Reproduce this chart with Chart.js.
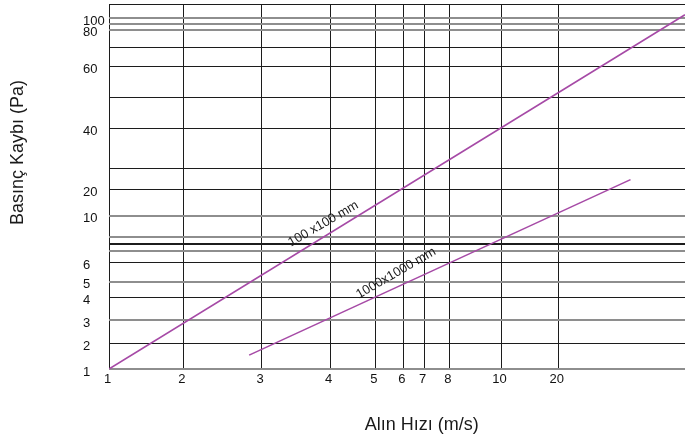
<!DOCTYPE html>
<html>
<head>
<meta charset="utf-8">
<script src="https://cdn.jsdelivr.net/npm/chart.js@4/dist/chart.umd.min.js"></script>
<style>
  html, body { margin: 0; padding: 0; background: #ffffff; }
  #wrap { width: 685px; height: 441px; }
</style>
</head>
<body>
<div id="wrap"><canvas id="c" width="685" height="441"></canvas></div>
<script>
// ---- data ----
const xTickValues = [1, 2, 3, 4, 5, 6, 7, 8, 10, 20];
const yTickLabels = [1, 2, 3, 4, 5, 6, 10, 20, 40, 60, 80, 100];
const yMinorValues = [7, 8, 9, 30, 50, 70, 90];
const seriesNames = ['100 x100 mm', '1000x1000 mm'];
const smallDuctVelocity = [1, 30];
const smallDuctPressure = [1, 105];
const largeDuctVelocity = [2.84, 25.7];
const largeDuctPressure = [1.54, 24.6];
const xAxisTitle = 'Alın Hızı (m/s)';
const yAxisTitle = 'Basınç Kaybı (Pa)';

// ---- axis definition: the chart's hand-drawn, non-uniform scale (value -> fraction of axis) ----
const xAxisMax = 30, yAxisMax = 120;
const xKnots = [[1,0],[2,0.129],[3,0.2651],[4,0.3837],[5,0.4623],[6,0.5109],[7,0.5469],[8,0.5908],[10,0.6806],[20,0.780],[30,1]];
const yKnots = [[1,0],[2,0.0704],[3,0.1342],[4,0.1964],[5,0.2392],[6,0.2912],[7,0.3241],[8,0.3425],[9,0.3608],[10,0.42],[20,0.4923],[30,0.5499],[40,0.6584],[50,0.7433],[60,0.8282],[70,0.8803],[80,0.9296],[90,0.9452],[100,0.9608],[120,1]];

function toFrac(knots, v) {
  let i = 0;
  while (i < knots.length - 2 && v > knots[i + 1][0]) i++;
  const [v0, f0] = knots[i], [v1, f1] = knots[i + 1];
  return f0 + (v - v0) / (v1 - v0) * (f1 - f0);
}
function fromFrac(knots, f) {
  let i = 0;
  while (i < knots.length - 2 && f > knots[i + 1][1]) i++;
  const [v0, f0] = knots[i], [v1, f1] = knots[i + 1];
  return v0 + (f - f0) / (f1 - f0) * (v1 - v0);
}

const LinearScale = Chart.LinearScale || Chart.registry.getScale('linear');
class BreakScale extends LinearScale {
  _knots() { return this.axis === 'x' ? xKnots : yKnots; }
  getPixelForValue(value) {
    if (value === null || value === undefined || isNaN(value)) return NaN;
    return this.getPixelForDecimal(toFrac(this._knots(), value));
  }
  getValueForPixel(pixel) {
    return fromFrac(this._knots(), this.getDecimalForPixel(pixel));
  }
}
BreakScale.id = 'breaks';
Chart.register(BreakScale);

const FONT = '"Liberation Sans", Arial, Helvetica, sans-serif';
const PURPLE = '#a64aa6';
const yGray = [1, 3, 5, 7, 9, 10, 80, 90, 100];
const yThick = [8];

const lineLabels = [
  { dataset: 0, t: 0.372, dy: -13.3, text: seriesNames[0] },
  { dataset: 1, t: 0.385, dy: -14.4, text: seriesNames[1] }
];

const annotate = {
  id: 'annotate',
  afterDatasetsDraw(chart) {
    const ctx = chart.ctx;
    ctx.save();
    ctx.fillStyle = '#1a1a1a';
    ctx.font = '13px ' + FONT;
    ctx.textAlign = 'center';
    ctx.textBaseline = 'middle';
    lineLabels.forEach(l => {
      const pts = chart.getDatasetMeta(l.dataset).data;
      const p0 = pts[0], p1 = pts[pts.length - 1];
      const x = p0.x + (p1.x - p0.x) * l.t;
      const y = p0.y + (p1.y - p0.y) * l.t + l.dy;
      ctx.save();
      ctx.translate(x, y);
      ctx.rotate(-30 * Math.PI / 180);
      ctx.fillText(l.text, 0, 0);
      ctx.restore();
    });
    // axis titles
    ctx.font = '18px ' + FONT;
    ctx.textBaseline = 'alphabetic';
    ctx.textAlign = 'center';
    ctx.fillText(xAxisTitle, 421.7, 430);
    ctx.save();
    ctx.translate(22.7, 225);
    ctx.rotate(-Math.PI / 2);
    ctx.textAlign = 'left';
    ctx.fillText(yAxisTitle, 0, 0);
    ctx.restore();
    ctx.restore();
  }
};

new Chart(document.getElementById('c').getContext('2d'), {
  type: 'scatter',
  data: {
    datasets: [
      {
        label: seriesNames[0],
        data: smallDuctVelocity.map((x, i) => ({ x: x, y: smallDuctPressure[i] })),
        showLine: true, borderColor: PURPLE, backgroundColor: PURPLE,
        borderWidth: 1.6, pointRadius: 0, fill: false
      },
      {
        label: seriesNames[1],
        data: largeDuctVelocity.map((x, i) => ({ x: x, y: largeDuctPressure[i] })),
        showLine: true, borderColor: PURPLE, backgroundColor: PURPLE,
        borderWidth: 1.6, pointRadius: 0, fill: false
      }
    ]
  },
  options: {
    responsive: false,
    animation: false,
    devicePixelRatio: 1,
    layout: { padding: { left: 83, top: 4, right: 0, bottom: 0 } },
    plugins: { legend: { display: false }, tooltip: { enabled: false } },
    scales: {
      x: {
        type: 'breaks',
        min: 1, max: xAxisMax,
        afterBuildTicks: s => { s.ticks = [...xTickValues, xAxisMax].map(v => ({ value: v })); },
        afterFit: s => { s.height = 72; s.paddingLeft = 0; s.paddingRight = 0; },
        ticks: {
          autoSkip: false, maxRotation: 0, minRotation: 0, padding: 3, labelOffset: -1.5,
          color: '#111', font: { family: FONT, size: 13 },
          callback: v => xTickValues.includes(v) ? String(v) : ''
        },
        grid: {
          drawTicks: false,
          color: c => (c.tick && c.tick.value === xAxisMax) ? 'rgba(0,0,0,0)' : '#1c1c1c',
          lineWidth: 1
        },
        border: { display: false }
      },
      y: {
        type: 'breaks',
        min: 1, max: yAxisMax,
        afterBuildTicks: s => {
          s.ticks = [...yTickLabels, ...yMinorValues, yAxisMax].sort((a, b) => a - b).map(v => ({ value: v }));
        },
        afterFit: s => { s.width = 26; s.paddingTop = 0; s.paddingBottom = 0; },
        ticks: {
          autoSkip: false, crossAlign: 'far', padding: 0, labelOffset: 3,
          color: '#111', font: { family: FONT, size: 13 },
          callback: v => yTickLabels.includes(v) ? String(v) : ''
        },
        grid: {
          drawTicks: false,
          color: c => {
            const v = c.tick ? c.tick.value : null;
            if (yGray.includes(v)) return '#8e8e8e';
            return '#1c1c1c';
          },
          lineWidth: c => {
            const v = c.tick ? c.tick.value : null;
            if (yGray.includes(v) || yThick.includes(v)) return 2;
            return 1;
          }
        },
        border: { display: false }
      }
    }
  },
  plugins: [annotate]
});
</script>
</body>
</html>
